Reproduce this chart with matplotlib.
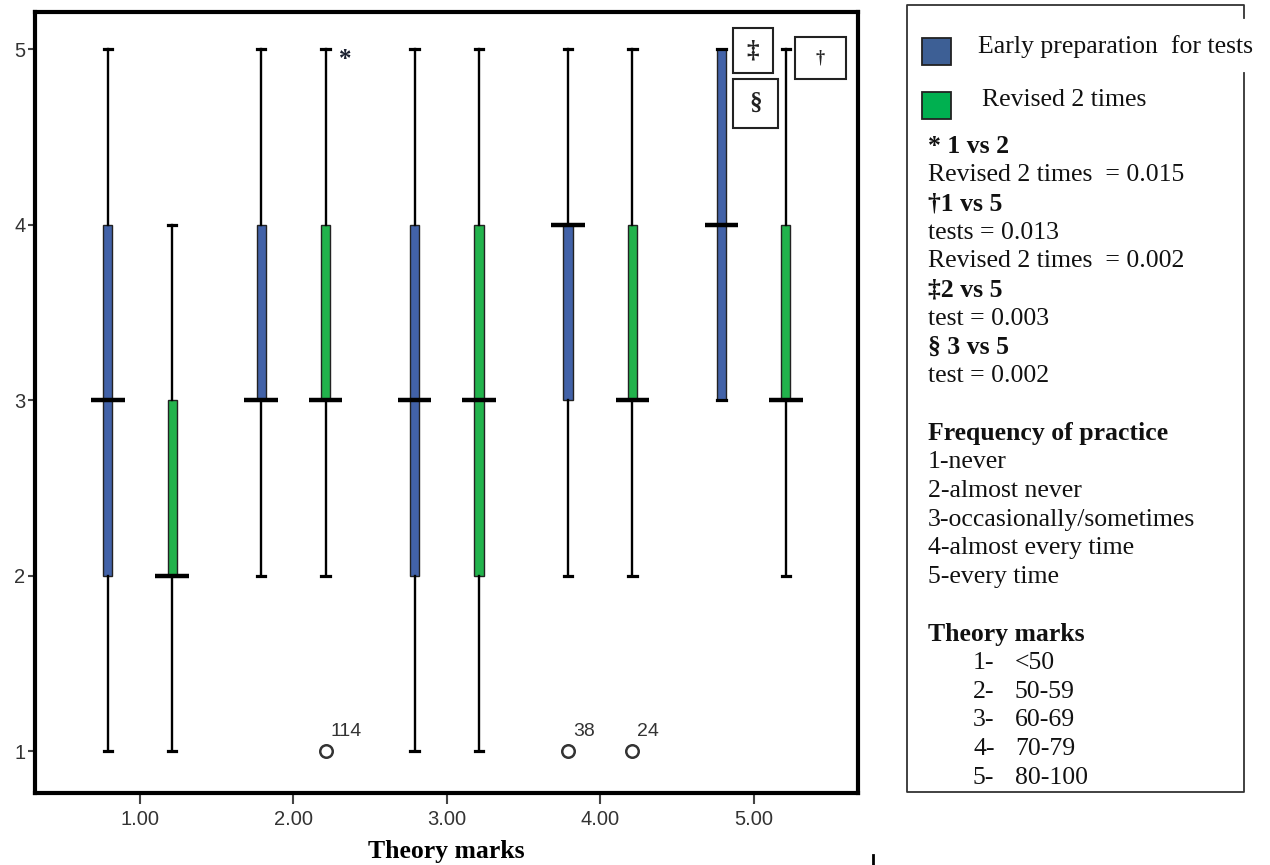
import numpy as np
import matplotlib
matplotlib.use('Agg')
import matplotlib.pyplot as plt
from matplotlib.patches import Rectangle
from matplotlib.lines import Line2D

# theory marks groups
GROUPS = [1, 2, 3, 4, 5]
TICK_LABELS = ['1.00', '2.00', '3.00', '4.00', '5.00']

# Early preparation for tests (blue)
EARLY_WLO = [1, 2, 1, 2, 3]
EARLY_Q1 = [2, 3, 2, 3, 3]
EARLY_MED = [3, 3, 3, 4, 4]
EARLY_Q3 = [4, 4, 4, 4, 5]
EARLY_WHI = [5, 5, 5, 5, 5]
EARLY_OUT = [[], [], [], [1], []]
EARLY_OUT_ID = [[], [], [], ['38'], []]

# Revised 2 times (green)
REV_WLO = [1, 2, 1, 2, 2]
REV_Q1 = [2, 3, 2, 3, 3]
REV_MED = [2, 3, 3, 3, 3]
REV_Q3 = [3, 4, 4, 4, 4]
REV_WHI = [4, 5, 5, 5, 5]
REV_OUT = [[], [1], [], [1], []]
REV_OUT_ID = [[], ['114'], [], ['24'], []]

BLUE = '#4262a8'
GREEN = '#22b34c'
LEG_BLUE = '#3d5f95'
LEG_GREEN = '#00b050'

LEGEND_LINES = [
    ('* 1 vs 2', True), ('Revised 2 times  = 0.015', False),
    ('\u20201 vs 5', True), ('tests = 0.013', False),
    ('Revised 2 times  = 0.002', False),
    ('\u20212 vs 5', True), ('test = 0.003', False),
    ('\u00a7 3 vs 5', True), ('test = 0.002', False),
    ('', False),
    ('Frequency of practice', True), ('1-never', False), ('2-almost never', False),
    ('3-occasionally/sometimes', False), ('4-almost every time', False),
    ('5-every time', False),
    ('', False),
    ('Theory marks', True),
]
MARK_NUM = ['1-', '2-', '3-', '4-', '5-']
MARK_RANGE = ['<50', '50-59', '60-69', '70-79', '80-100']

W, H = 1270, 865
SERIF = 'Liberation Serif'
SANS = 'Liberation Sans'
LFS = 18.5


def px(x, y):
    return x / W, 1 - y / H


def stats(wlo, q1, med, q3, whi, out):
    return [dict(whislo=a, q1=b, med=c, q3=d, whishi=e, fliers=f)
            for a, b, c, d, e, f in zip(wlo, q1, med, q3, whi, out)]


fig = plt.figure(figsize=(W / 100, H / 100), dpi=100)
ax = fig.add_axes([35 / W, 1 - 793 / H, (858 - 35) / W, (793 - 12) / H])

pos = np.array(GROUPS, dtype=float)
off = 0.21
series = [
    (stats(EARLY_WLO, EARLY_Q1, EARLY_MED, EARLY_Q3, EARLY_WHI, EARLY_OUT), pos - off, BLUE, EARLY_MED, EARLY_OUT, EARLY_OUT_ID),
    (stats(REV_WLO, REV_Q1, REV_MED, REV_Q3, REV_WHI, REV_OUT), pos + off, GREEN, REV_MED, REV_OUT, REV_OUT_ID),
]
for st, p, col, med, outs, ids in series:
    ax.bxp(st, positions=p, widths=0.06, capwidths=0.055, patch_artist=True,
           boxprops=dict(facecolor=col, edgecolor='#222222', linewidth=1.0),
           whiskerprops=dict(color='black', linewidth=1.7),
           capprops=dict(color='black', linewidth=2.3),
           medianprops=dict(visible=False),
           flierprops=dict(marker='o', markersize=9, markerfacecolor='white',
                           markeredgecolor='#333333', markeredgewidth=1.8))
    ax.hlines(med, p - 0.11, p + 0.11, color='black', linewidth=3.2, zorder=5)
    for x, o, lab in zip(p, outs, ids):
        for v, t in zip(o, lab):
            ax.annotate(t, (x, v), xytext=(5, 20), textcoords='offset pixels',
                        ha='left', va='center', fontsize=14, family=SANS, color='#333333')

ax.text(2.335, 4.94, '*', fontsize=18, fontweight='bold', family=SERIF,
        ha='center', va='center', color='#1a2030')

ax.set_xlim(0.316, 5.68)
ax.set_ylim(0.761, 5.211)
ax.set_xticks(GROUPS)
ax.set_xticklabels(TICK_LABELS)
ax.set_yticks([1, 2, 3, 4, 5])
ax.set_yticklabels(['1', '2', '3', '4', '5'])
ax.tick_params(axis='x', length=8, width=1.5, color='#444444', labelsize=14.5,
               labelcolor='#333333', pad=4)
ax.tick_params(axis='y', length=5, width=1.5, color='#444444', labelsize=14.5,
               labelcolor='#333333', pad=2)
for lab in ax.get_xticklabels() + ax.get_yticklabels():
    lab.set_family(SANS)
for s in ax.spines.values():
    s.set_linewidth(3)
    s.set_color('black')
ax.set_xlabel('Theory marks', family=SERIF, fontsize=18.5, fontweight='bold', labelpad=8)

# symbol boxes at the top right of the plot
for (x0, y0, x1, y1), sym, fs in [((733, 28, 773, 73), '\u2021', 18),
                                  ((733, 79, 778, 128), '\u00a7', 18),
                                  ((795, 37, 846, 79), '\u2020', 13)]:
    a, b = px(x0, y1)
    fig.patches.append(Rectangle((a, b), (x1 - x0) / W, (y1 - y0) / H, transform=fig.transFigure,
                                 facecolor='white', edgecolor='#222222', linewidth=1.5, zorder=2))
    cx, cy = px((x0 + x1) / 2, (y0 + y1) / 2)
    fig.text(cx, cy, sym, ha='center', va='center', fontsize=fs, fontweight='bold',
             family=SERIF, color='#222222', zorder=3)

# legend panel
border = [(1244, 18), (1244, 5), (907, 5), (907, 792), (1244, 792), (1244, 73)]
bx, by = zip(*[px(x, y) for x, y in border])
fig.add_artist(Line2D(bx, by, transform=fig.transFigure, color='#333333', linewidth=1.3))

for y0, col, label, tx in [(38, LEG_BLUE, 'Early preparation  for tests', 978),
                           (92, LEG_GREEN, 'Revised 2 times', 982)]:
    a, b = px(922, y0 + 27)
    fig.patches.append(Rectangle((a, b), 29 / W, 27 / H, transform=fig.transFigure,
                                 facecolor=col, edgecolor='#222222', linewidth=1.3))
    fig.text(*px(tx, y0 + 6), label, ha='left', va='center_baseline', fontsize=LFS,
             family=SERIF, color='#111111')

step = 28.7
for i, (txt, bold) in enumerate(LEGEND_LINES):
    if txt:
        fig.text(*px(928, 144 + i * step), txt, ha='left', va='center_baseline',
                 fontsize=LFS, family=SERIF, fontweight='bold' if bold else 'normal',
                 color='#111111')
y_start = 144 + len(LEGEND_LINES) * step
for i, (n, r) in enumerate(zip(MARK_NUM, MARK_RANGE)):
    fig.text(*px(973, y_start + i * step), n, ha='left', va='center_baseline',
             fontsize=LFS, family=SERIF, color='#111111')
    fig.text(*px(1015, y_start + i * step), r, ha='left', va='center_baseline',
             fontsize=LFS, family=SERIF, color='#111111')

# small stray mark under the chart
fig.add_artist(Line2D([873 / W, 873 / W], [1 - 855 / H, 1 - 865 / H],
                      transform=fig.transFigure, color='black', linewidth=2))

fig.savefig('out.png', dpi=100)
